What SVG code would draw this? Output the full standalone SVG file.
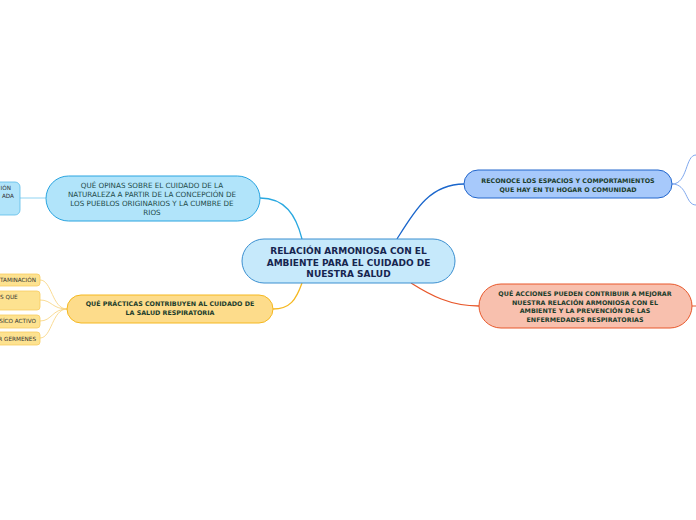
<svg xmlns="http://www.w3.org/2000/svg" width="696" height="520" viewBox="0 0 696 520">
<style>
text{font-family:"DejaVu Sans",Verdana,sans-serif;text-anchor:middle}
.c{font-size:9px;font-weight:bold;fill:#16254f}
.n{font-size:7.2px;fill:#1d4a48}
.b{font-size:6.35px;font-weight:bold;fill:#1c3d2c}
.s{font-size:5.7px;fill:#333}
.e{text-anchor:end}
.st{text-anchor:start}
</style>
<rect width="696" height="520" fill="#fff"/>
<g id="connectors" fill="none">
<path d="M302,239 C296,215 285,198 260,198" stroke="#29a8e0" stroke-width="1.3"/>
<path d="M397,239 C415,210 430,184 464,184" stroke="#1a66cc" stroke-width="1.3"/>
<path d="M411,283 C430,295 450,306 479,306" stroke="#e8572a" stroke-width="1.3"/>
<path d="M302,283 C296,300 290,309 273,309" stroke="#f5b820" stroke-width="1.3"/>
<path d="M20,198 L46,198" stroke="#8fd3f2" stroke-width="1"/>
<path d="M672,184 C688,184 685,155 696,155" stroke="#7fa8ee" stroke-width="1"/>
<path d="M672,184 C688,184 685,205 696,205" stroke="#7fa8ee" stroke-width="1"/>
<path d="M692,306 L696,306" stroke="#e8572a" stroke-width="1"/>
<path d="M67,309 C52,309 52,280 40,280" stroke="#f8d27a" stroke-width="0.8"/>
<path d="M67,309 C52,309 52,300 40,300" stroke="#f8d27a" stroke-width="0.8"/>
<path d="M67,309 C52,309 52,321 40,321" stroke="#f8d27a" stroke-width="0.8"/>
<path d="M67,309 C52,309 52,338 40,338" stroke="#f8d27a" stroke-width="0.8"/>
</g>
<g id="central">
<rect x="242" y="239" width="213" height="44" rx="22" fill="#c6e9fb" stroke="#3b8fd0" stroke-width="1"/>
<text class="c" x="348.5" y="254">RELACIÓN ARMONIOSA CON EL</text>
<text class="c" x="348.5" y="265.5">AMBIENTE PARA EL CUIDADO DE</text>
<text class="c" x="348.5" y="277">NUESTRA SALUD</text>
</g>
<g id="opinas">
<rect x="46" y="176" width="214" height="45" rx="22.5" fill="#b1e4fa" stroke="#2aa4e0" stroke-width="1"/>
<text class="n" x="152" y="188">QUÉ OPINAS SOBRE EL CUIDADO DE LA</text>
<text class="n" x="152" y="197">NATURALEZA A PARTIR DE LA CONCEPCIÓN DE</text>
<text class="n" x="152" y="206">LOS PUEBLOS ORIGINARIOS Y LA CUMBRE DE</text>
<text class="n" x="152" y="215">RIOS</text>
</g>
<g id="opinas-hijo">
<rect x="-20" y="182" width="40" height="33" rx="5" fill="#b1e4fa" stroke="#5bbbe8" stroke-width="0.8"/>
<text class="s e" x="11" y="190">IÓN</text>
<text class="s e" x="14" y="198">ADA</text>
</g>
<g id="reconoce">
<rect x="464" y="170" width="208" height="28" rx="14" fill="#a7c9fb" stroke="#2266cc" stroke-width="1"/>
<text class="b" x="568" y="183">RECONOCE LOS ESPACIOS Y COMPORTAMIENTOS</text>
<text class="b" x="568" y="191.5">QUE HAY EN TU HOGAR O COMUNIDAD</text>
</g>
<g id="acciones">
<rect x="479" y="284" width="213" height="44" rx="22" fill="#f8c0ae" stroke="#e8572a" stroke-width="1"/>
<text class="b" x="585" y="296">QUÉ ACCIONES PUEDEN CONTRIBUIR A MEJORAR</text>
<text class="b" x="585" y="304.5">NUESTRA RELACIÓN ARMONIOSA CON EL</text>
<text class="b" x="585" y="313">AMBIENTE Y LA PREVENCIÓN DE LAS</text>
<text class="b" x="585" y="321.5">ENFERMEDADES RESPIRATORIAS</text>
</g>
<g id="practicas">
<rect x="67" y="295" width="206" height="28" rx="14" fill="#fddc8b" stroke="#f5b820" stroke-width="1"/>
<text class="b" x="170" y="306">QUÉ PRÁCTICAS CONTRIBUYEN AL CUIDADO DE</text>
<text class="b" x="170" y="315">LA SALUD RESPIRATORIA</text>
</g>
<g id="practica-1">
<rect x="-20" y="274" width="60" height="12" rx="3" fill="#fde290" stroke="#f8cd60" stroke-width="0.8"/>
<text class="s e" x="36" y="282">TAMINACIÓN</text>
</g>
<g id="practica-2">
<rect x="-20" y="291" width="60" height="19" rx="3" fill="#fde290" stroke="#f8cd60" stroke-width="0.8"/>
<text class="s st" x="0" y="298.5">S QUE</text>
</g>
<g id="practica-3">
<rect x="-20" y="315" width="60" height="13" rx="3" fill="#fde290" stroke="#f8cd60" stroke-width="0.8"/>
<text class="s e" x="36" y="323">SÍCO ACTIVO</text>
</g>
<g id="practica-4">
<rect x="-20" y="332" width="60" height="13" rx="3" fill="#fde290" stroke="#f8cd60" stroke-width="0.8"/>
<text class="s e" x="36" y="340.5">R GERMENES</text>
</g>
</svg>
